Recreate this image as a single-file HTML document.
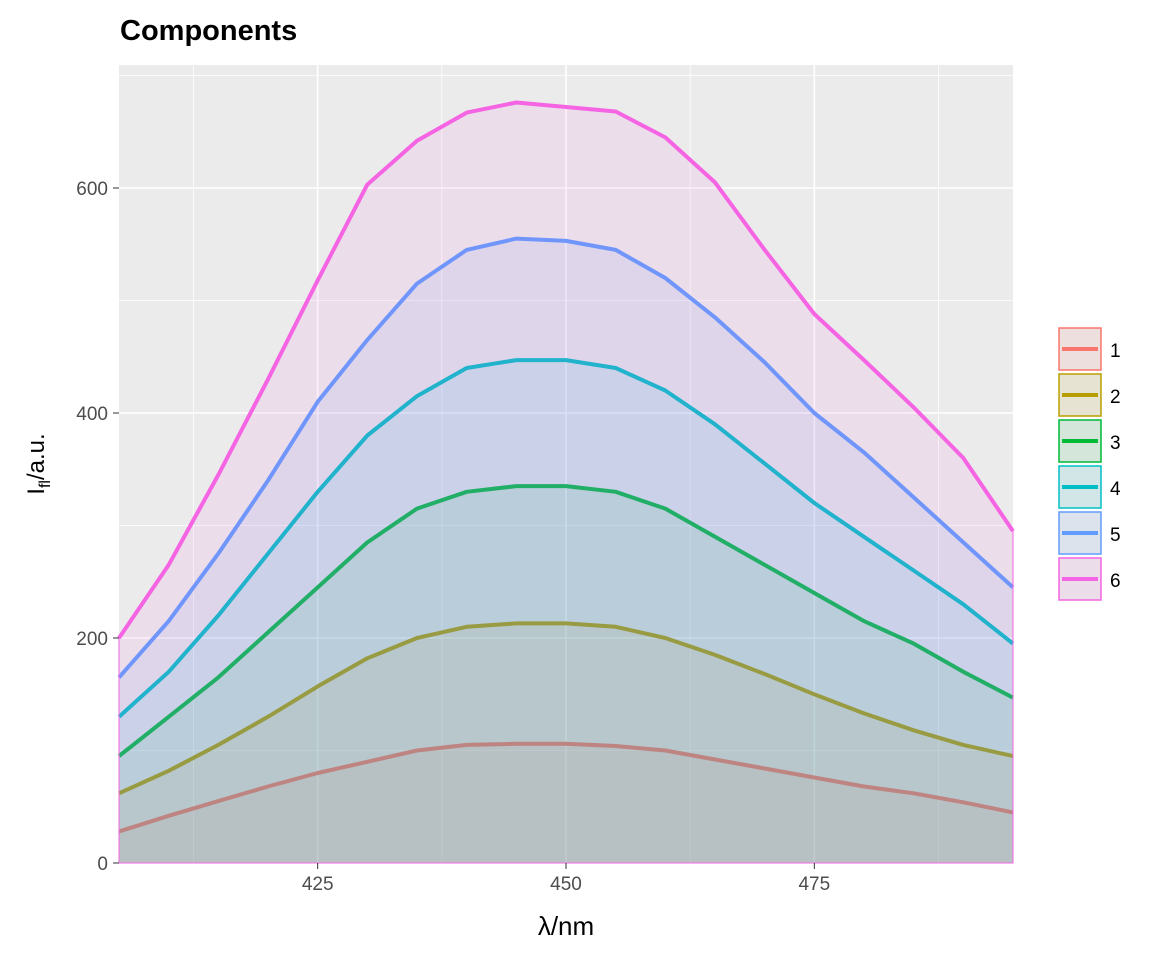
<!DOCTYPE html>
<html><head><meta charset="utf-8"><style>
body{margin:0;background:#fff;font-family:"Liberation Sans",sans-serif}
</style></head><body>
<svg id="chart" width="1152" height="960" xmlns="http://www.w3.org/2000/svg" font-family="Liberation Sans, sans-serif">
<rect width="1152" height="960" fill="#fff"/>
<text x="120" y="40" font-size="29" font-weight="bold">Components</text>
<rect x="119" y="65" width="894" height="798" fill="#EBEBEB"/>
<g id="grid"></g>
<g id="series"></g>
<g id="axes"></g>
<text x="566" y="935" font-size="26" text-anchor="middle">λ/nm</text>
<text transform="translate(44,464) rotate(-90)" font-size="24" text-anchor="middle">I<tspan font-size="16" dy="6">fl</tspan><tspan dy="-6">/a.u.</tspan></text>
<g id="legend"></g>
</svg>
<script>
const wavelengths=[405,410,415,420,425,430,435,440,445,450,455,460,465,470,475,480,485,490,495];
const s1=[28,42,55,68,80,90,100,105,106,106,104,100,92,84,76,68,62,54,45];
const s2=[62,82,105,130,157,182,200,210,213,213,210,200,185,168,150,133,118,105,95];
const s3=[95,130,165,205,245,285,315,330,335,335,330,315,290,265,240,215,195,170,147];
const s4=[130,170,220,275,330,380,415,440,447,447,440,420,390,355,320,290,260,230,195];
const s5=[165,215,275,340,410,465,515,545,555,553,545,520,485,445,400,365,325,285,245];
const s6=[200,265,345,430,518,603,642,667,676,672,668,645,605,545,488,447,405,360,295];
const seriesNames=["1","2","3","4","5","6"];
const xTicks=[425,450,475];
const yTicks=[0,200,400,600];
const allSeries=[s1,s2,s3,s4,s5,s6];
const colors=["#F8766D","#B79F00","#00BA38","#00BFC4","#619CFF","#F564E3"];
const NS="http://www.w3.org/2000/svg";
const X0=119,X1=1013,Y0=863;
const sx=v=>X0+(v-405)/(495-405)*(X1-X0);
const sy=v=>Y0-v*1.125;
function mk(tag,attrs,parent){const e=document.createElementNS(NS,tag);for(const k in attrs)e.setAttribute(k,attrs[k]);parent.appendChild(e);return e;}
const grid=document.getElementById('grid');
[100,300,500,700].forEach(v=>{const l=mk('line',{x1:X0,x2:X1,y1:sy(v),y2:sy(v),stroke:'#fff','stroke-width':0.8},grid);

});
[412.5,437.5,462.5,487.5].forEach(v=>{const l=mk('line',{x1:sx(v),x2:sx(v),y1:65,y2:863,stroke:'#fff','stroke-width':0.8},grid);

});
yTicks.forEach(v=>{const l=mk('line',{x1:X0,x2:X1,y1:sy(v),y2:sy(v),stroke:'#fff','stroke-width':1.6},grid);

});
xTicks.forEach(v=>{const l=mk('line',{x1:sx(v),x2:sx(v),y1:65,y2:863,stroke:'#fff','stroke-width':1.6},grid);

});
const sg=document.getElementById('series');
allSeries.forEach((s,i)=>{
  let pts=s.map((v,j)=>sx(wavelengths[j]).toFixed(1)+','+sy(v).toFixed(1));
  const area=mk('polygon',{points:sx(405)+','+sy(0)+' '+pts.join(' ')+' '+sx(495)+','+sy(0),fill:colors[i],'fill-opacity':0.1,stroke:colors[i],'stroke-width':1},sg);
  
  
  const line=mk('polyline',{points:pts.join(' '),fill:'none',stroke:colors[i],'stroke-width':4,'stroke-linejoin':'round'},sg);
  
  
});
const ax=document.getElementById('axes');
yTicks.forEach(v=>{mk('line',{x1:113,x2:119,y1:sy(v),y2:sy(v),stroke:'#333','stroke-width':1},ax);
const t=mk('text',{x:108,y:sy(v)+7,'font-size':19,fill:'#4D4D4D','text-anchor':'end'},ax);t.textContent=v;

});
xTicks.forEach(v=>{mk('line',{x1:sx(v),x2:sx(v),y1:863,y2:869,stroke:'#333','stroke-width':1},ax);
const t=mk('text',{x:sx(v),y:890,'font-size':19,fill:'#4D4D4D','text-anchor':'middle'},ax);t.textContent=v;

});
const lg=document.getElementById('legend');
seriesNames.forEach((n,i)=>{
  const y=328+i*46;
  const g=mk('g',{},lg);
  
  
  mk('rect',{x:1059,y:y,width:42,height:42,fill:'#EBEBEB'},g);
  mk('rect',{x:1059,y:y,width:42,height:42,fill:colors[i],'fill-opacity':0.1,stroke:colors[i],'stroke-width':1.5},g);
  mk('line',{x1:1062,x2:1098,y1:y+21,y2:y+21,stroke:colors[i],'stroke-width':4},g);
  const t=mk('text',{x:1110,y:y+29,'font-size':19},g);t.textContent=n;
});
</script>
</body></html>
